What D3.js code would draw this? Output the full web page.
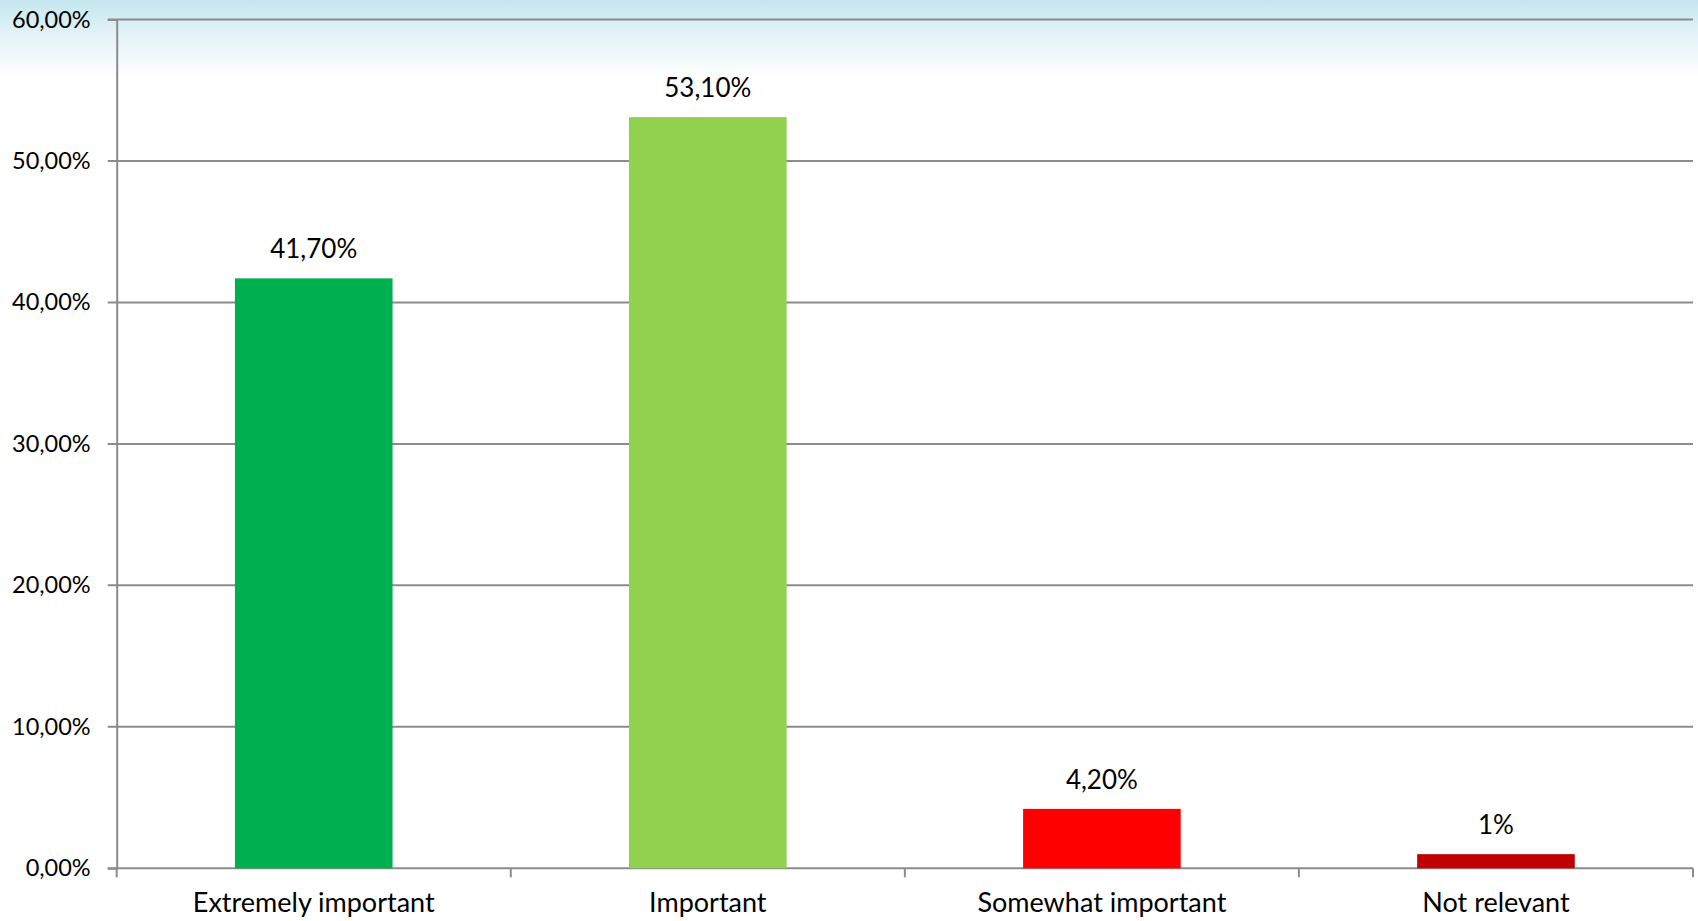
<!DOCTYPE html>
<html>
<head>
<meta charset="utf-8">
<script src="https://cdn.jsdelivr.net/npm/d3@7"></script>
<style>
  html, body { margin: 0; padding: 0; background: #fff; }
  text { font-family: Lato, "Open Sans", sans-serif; fill: #000; }
</style>
</head>
<body>
<div id="chart"></div>
<script>
var categories = ["Extremely important", "Important", "Somewhat important", "Not relevant"];
var values = [41.7, 53.1, 4.2, 1];
var valueLabels = ["41,70%", "53,10%", "4,20%", "1%"];
var barColors = ["#00b050", "#92d050", "#ff0000", "#c00000"];
var yTicks = [0, 10, 20, 30, 40, 50, 60];

var width = 1698, height = 921;
var margin = {top: 19.5, right: 5, bottom: 52.7, left: 116.7};

var svg = d3.select("#chart").append("svg")
    .attr("width", width)
    .attr("height", height);

// light blue slide background fading out at the top
var grad = svg.append("defs").append("linearGradient")
    .attr("id", "bg").attr("x1", 0).attr("y1", 0).attr("x2", 0).attr("y2", 1);
grad.append("stop").attr("offset", "0%").attr("stop-color", "#c4e6ef");
grad.append("stop").attr("offset", "45%").attr("stop-color", "#e4f3f8");
grad.append("stop").attr("offset", "100%").attr("stop-color", "#ffffff");
svg.append("rect").attr("x", 0).attr("y", 0)
    .attr("width", width).attr("height", 78)
    .style("fill", "url(#bg)");

var x = d3.scaleBand()
    .domain(categories)
    .range([margin.left, width - margin.right])
    .paddingInner(0.6)
    .paddingOuter(0.3);

var y = d3.scaleLinear()
    .domain([0, 60])
    .range([height - margin.bottom, margin.top]);

var fmt = function(d) { return d3.format(".2f")(d).replace(".", ",") + "%"; };

// gridlines
svg.append("g").attr("class", "grid")
  .selectAll("line")
  .data(yTicks)
  .enter().append("line")
    .attr("x1", margin.left - 9)
    .attr("x2", width - margin.right)
    .attr("y1", function(d) { return y(d); })
    .attr("y2", function(d) { return y(d); })
    .style("stroke", "#8c8c8c")
    .style("stroke-width", 2);

// y axis
var yAxis = svg.append("g")
    .attr("transform", "translate(" + margin.left + ",0)")
    .call(d3.axisLeft(y).tickValues(yTicks).tickFormat(fmt).tickSize(9).tickPadding(17));
yAxis.select(".domain").style("stroke", "#8c8c8c").style("stroke-width", 2);
yAxis.selectAll(".tick line").style("stroke", "none");
yAxis.selectAll("text").style("font-size", "23.5px").style("fill", "#000");

// x axis with ticks at band boundaries
var xBase = y(0);
var bounds = d3.range(categories.length + 1).map(function(i) {
    return margin.left + i * (width - margin.right - margin.left) / categories.length;
});
svg.append("g").selectAll("line")
  .data(bounds)
  .enter().append("line")
    .attr("x1", function(d) { return d; })
    .attr("x2", function(d) { return d; })
    .attr("y1", xBase)
    .attr("y2", xBase + 9)
    .style("stroke", "#8c8c8c")
    .style("stroke-width", 2);

svg.append("g").selectAll("text")
  .data(categories)
  .enter().append("text")
    .attr("x", function(d) { return x(d) + x.bandwidth() / 2; })
    .attr("y", xBase + 44)
    .attr("text-anchor", "middle")
    .style("font-size", "27px")
    .text(function(d) { return d; });

// bars
svg.append("g").selectAll("rect")
  .data(values)
  .enter().append("rect")
    .attr("x", function(d, i) { return x(categories[i]); })
    .attr("width", x.bandwidth())
    .attr("y", function(d) { return y(d); })
    .attr("height", function(d) { return y(0) - y(d); })
    .style("fill", function(d, i) { return barColors[i]; });

// value labels
svg.append("g").selectAll("text")
  .data(values)
  .enter().append("text")
    .attr("x", function(d, i) { return x(categories[i]) + x.bandwidth() / 2; })
    .attr("y", function(d) { return y(d) - 20; })
    .attr("text-anchor", "middle")
    .style("font-size", "26px")
    .text(function(d, i) { return valueLabels[i]; });
</script>
</body>
</html>
